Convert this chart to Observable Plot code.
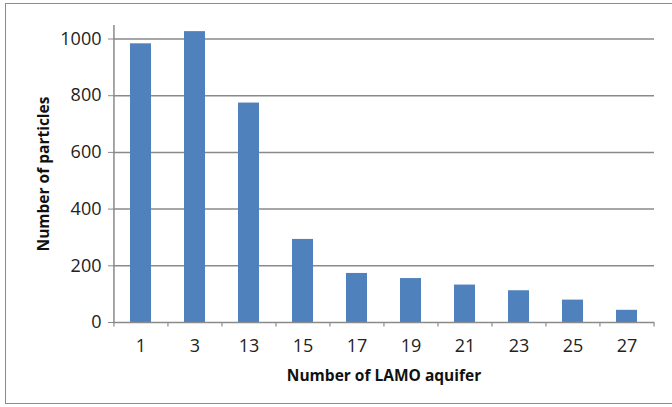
<!DOCTYPE html>
<html>
<head>
<meta charset="utf-8">
<script src="https://cdn.jsdelivr.net/npm/d3@7"></script>
<script src="https://cdn.jsdelivr.net/npm/@observablehq/plot@0.6"></script>
<style>
  html, body { margin: 0; padding: 0; background: #fff; }
  #wrap { position: relative; width: 672px; height: 407px; }
  #frame { position: absolute; left: 5px; top: 3px; width: 672px; height: 401px; border: 1.5px solid #8c8c8c; box-sizing: border-box; pointer-events: none; }
</style>
</head>
<body>
<div id="wrap"><div id="frame"></div><div id="chart"></div></div>
<script>
const categories = ["1", "3", "13", "15", "17", "19", "21", "23", "25", "27"];
const particles = [983, 1026, 774, 293, 173, 155, 132, 112, 79, 43];
const yTicks = [0, 200, 400, 600, 800, 1000];

const data = categories.map((c, i) => ({aquifer: c, count: particles[i]}));

const W = 672, H = 407, ML = 113, MR = 18, MT = 25, MB = 85;
const step = (W - ML - MR) / categories.length;
const font = "'Open Sans', sans-serif";
const grey = "#8a8a8a";

const chart = Plot.plot({
  width: W,
  height: H,
  marginLeft: ML,
  marginRight: MR,
  marginTop: MT,
  marginBottom: MB,
  style: {fontFamily: font, fontSize: "18px", color: "#222", background: "transparent"},
  x: {type: "band", domain: categories, paddingInner: 0.61, paddingOuter: 0.305, align: 0.5},
  y: {domain: [0, 1047.6]},
  marks: [
    Plot.ruleY(yTicks.filter(d => d > 0), {stroke: grey, strokeWidth: 1.5, strokeOpacity: 1}),
    Plot.barY(data, {x: "aquifer", y: "count", fill: "#4f81bd"}),
    Plot.ruleX(categories, {x: d => d, dx: -step / 2, y1: 0, y2: -16, stroke: grey, strokeWidth: 1.2}),
    Plot.ruleX([categories[categories.length - 1]], {x: d => d, dx: step / 2, y1: 0, y2: -16, stroke: grey, strokeWidth: 1.2}),
    Plot.ruleY([0], {stroke: grey, strokeWidth: 1.5}),
    Plot.ruleX([categories[0]], {x: d => d, dx: -step / 2, y1: 0, y2: 1047.6, stroke: grey, strokeWidth: 1.5}),
    Plot.axisY({ticks: yTicks, tickSize: 5, tickPadding: 7, stroke: grey, fontSize: 18, tickFormat: d => String(d), label: null}),
    Plot.axisX({tickSize: 0, tickPadding: 17, fontSize: 18, label: null}),
    Plot.text(["Number of particles"], {frameAnchor: "left", textAnchor: "middle", dx: -69, rotate: -90, fontWeight: "bold", fontSize: 15.5, fill: "#111"}),
    Plot.text(["Number of LAMO aquifer"], {frameAnchor: "bottom", dy: 58, fontWeight: "bold", fontSize: 15.5, fill: "#111"})
  ]
});
document.getElementById("chart").appendChild(chart);
</script>
</body>
</html>
